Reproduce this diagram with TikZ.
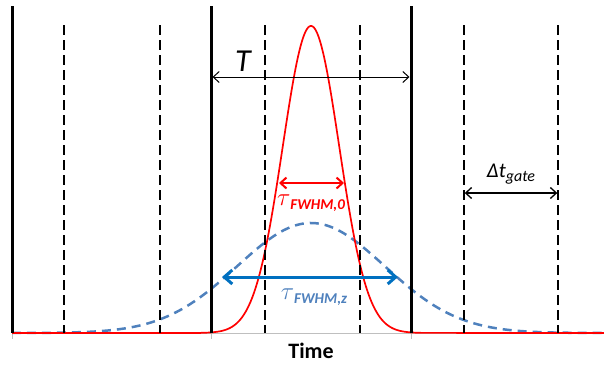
\documentclass[tikz,border=0pt]{standalone}
\usepackage{fontspec}
\setmainfont{Carlito}
\usetikzlibrary{arrows.meta,positioning}
\definecolor{PulseRed}{HTML}{FF0000}
\definecolor{PulseBlue}{HTML}{4F81BD}
\definecolor{ArrowBlue}{HTML}{0070C0}
\definecolor{AxisGray}{HTML}{BFBFBF}
\newcommand{\fwhm}[1]{{\fontsize{28}{30}\selectfont$\tau$}\raisebox{-4pt}{\fontsize{15}{18}\selectfont\bfseries\itshape FWHM,#1}}

\begin{document}
\begin{tikzpicture}[x=1pt,y=-1pt]
    \tikzset{frame/.style={line width=3pt,black},
      gate/.style={line width=1.4pt,black,dash pattern=on 10pt off 5pt},
      dim/.style={{Straight Barb[length=6pt,width=11pt]}-{Straight Barb[length=6pt,width=11pt]}},
      lbl/.style={inner sep=0pt,anchor=center}}
    \useasboundingbox (0,0) rectangle (604,365);
    % axis
    \coordinate (a0) at (12,333);
    \coordinate (a1) at (604,333);
    \draw[AxisGray,line width=1pt] (a0) -- (a1);
    \foreach \x in {12,211,411} \draw[AxisGray,line width=1pt] (\x,333) -- (\x,339);
    % pulses
    \draw[PulseBlue,line width=2.5pt,dash pattern=on 9pt off 6pt,domain=12:604,samples=160]
      plot (\x,{333-110*exp(-((\x-311)/100)^2/1.0922)});
    \draw[PulseRed,line width=1.7pt,domain=200:422,samples=200]
      (a0) -- (200,333) -- plot (\x,{333-307*exp(-((\x-311)/100)^2/0.160)}) -- (a1);
    % period boundaries
    \foreach \x [count=\i] in {12,211,411} {
      \coordinate (p\i t) at (\x,6);
      \coordinate (p\i b) at (\x,333);
      \draw[frame] (p\i t) -- (p\i b);
    }
    % gate edges
    \foreach \x [count=\i] in {64,160,265,360,464,558} {
      \coordinate (g\i t) at (\x,25);
      \coordinate (g\i b) at (\x,333);
      \draw[gate] (g\i t) -- (g\i b);
    }
    % dimensions
    \coordinate (T1) at (212.5,77);
    \coordinate (T2) at (409.5,77);
    \draw[dim,line width=1pt] (T1) -- (T2);
    \node[lbl,font=\fontsize{32}{36}\selectfont\itshape] (tper) at (243,61) {T};
    \coordinate (G1) at (464.7,193);
    \coordinate (G2) at (557.3,193);
    \draw[dim,line width=1.3pt] (G1) -- (G2);
    \node[lbl,font=\fontsize{21}{24}\selectfont\itshape] (tgate) at (511,174) {Δt\raisebox{-4pt}{\fontsize{16}{18}\selectfont gate}};
    \coordinate (R1) at (279,183);
    \coordinate (R2) at (344,183);
    \draw[dim,PulseRed,line width=2pt] (R1) -- (R2);
    \node[lbl,PulseRed] (tau0) at (311,203) {\fwhm{0}};
    \coordinate (B1) at (222,277);
    \coordinate (B2) at (398,277);
    \draw[{Straight Barb[length=8pt,width=14pt]}-{Straight Barb[length=8pt,width=14pt]},ArrowBlue,line width=3pt] (B1) -- (B2);
    \node[lbl,PulseBlue] (tauz) at (314,297) {\fwhm{z}};
    \node[lbl,font=\fontsize{22}{26}\selectfont\bfseries] (time) at (311,351) {Time};
  \end{tikzpicture}
\end{document}
